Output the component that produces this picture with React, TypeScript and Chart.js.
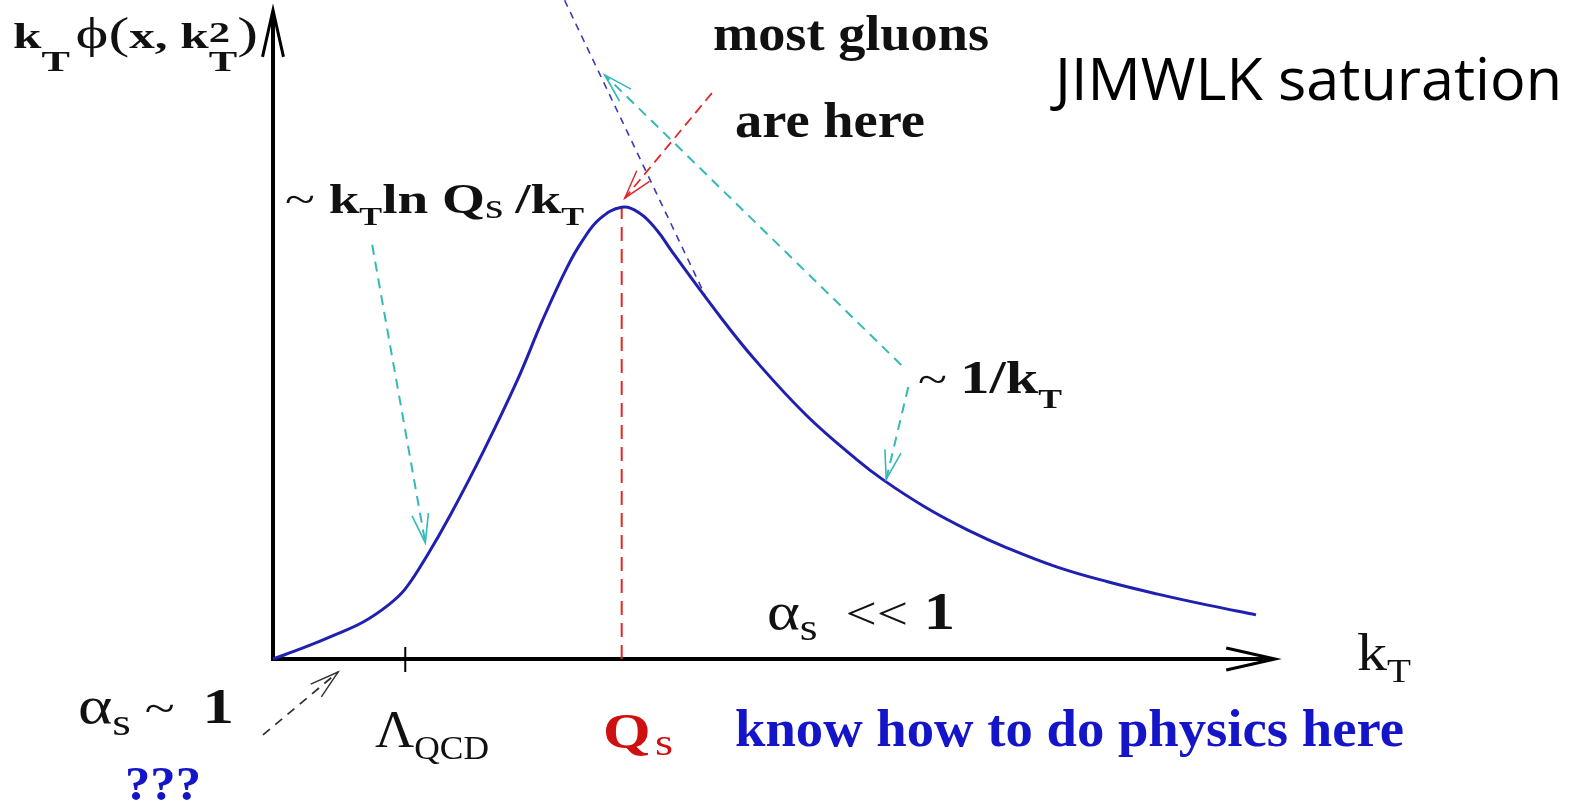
import React, { useEffect, useRef } from "react";
import { Chart, registerables } from "chart.js";

Chart.register(...registerables);

// Transverse momentum k_T (arbitrary units) and the unintegrated gluon
// distribution k_T·φ(x, k_T²) sampled along the curve.
const KT = [0, 0.3, 0.6, 0.9, 1.15, 1.32, 1.54, 1.77, 2.1, 2.44, 2.69, 2.93, 3.09, 3.26, 3.48, 3.66, 3.83, 3.99, 4.49, 4.81, 5.32, 5.82, 6.09, 6.52, 6.93, 7.33, 7.82, 8.33, 8.83, 9.33, 9.81];
const PHI = [0, 0.017, 0.036, 0.057, 0.083, 0.108, 0.16, 0.222, 0.32, 0.43, 0.522, 0.602, 0.645, 0.678, 0.696, 0.687, 0.661, 0.626, 0.522, 0.461, 0.376, 0.308, 0.276, 0.233, 0.199, 0.171, 0.142, 0.119, 0.1, 0.083, 0.068];

// Axis extents and marked scales
const X_MAX = 10;
const Y_MAX = 1;
const LAMBDA_QCD = 1.32;
const QS = 3.48;
const QS_PEAK = 0.696;

// Dashed 1/k_T asymptote
const ASYM_X = [2.91, 4.31];
const ASYM_Y = [1.015, 0.561];

// Dashed pointers (tail -> head)
const RED_PTR_X = [4.38, 3.51];
const RED_PTR_Y = [0.872, 0.71];
const CYAN_LEFT_X = [0.99, 1.52];
const CYAN_LEFT_Y = [0.638, 0.179];
const CYAN_UP_X = [6.27, 3.31];
const CYAN_UP_Y = [0.453, 0.9];
const CYAN_DOWN_X = [6.34, 6.12];
const CYAN_DOWN_Y = [0.419, 0.277];
const BLACK_PTR_X = [-0.1, 0.65];
const BLACK_PTR_Y = [-0.117, -0.02];

const SERIF = '"Liberation Serif", "DejaVu Serif", serif';
const SANS = '"Open Sans", "Noto Sans", sans-serif';
const B = (s: number) => `bold ${s}px ${SERIF}`;
const R = (s: number) => `${s}px ${SERIF}`;

const CURVE_BLUE = "#2020b0";
const CYAN = "#35b8b8";
const RED = "#e02828";
const TEXT_BLUE = "#1414c8";
const TEXT_RED = "#d01010";

type Run = { t: string; f: string; dy?: number; stay?: boolean; c?: string };

function drawRuns(ctx: CanvasRenderingContext2D, runs: Run[], x: number, y: number, width: number, color: string) {
  const widths = runs.map((r) => {
    ctx.font = r.f;
    return ctx.measureText(r.t).width;
  });
  let total = 0;
  runs.forEach((r, i) => {
    if (!r.stay) total += widths[i];
  });
  const sx = width > 0 ? width / total : 1;
  ctx.save();
  ctx.translate(x, y);
  ctx.scale(sx, 1);
  ctx.textBaseline = "alphabetic";
  ctx.textAlign = "left";
  let cx = 0;
  runs.forEach((r, i) => {
    ctx.font = r.f;
    ctx.fillStyle = r.c || color;
    ctx.fillText(r.t, cx, r.dy || 0);
    if (!r.stay) cx += widths[i];
  });
  ctx.restore();
}

function head(ctx: CanvasRenderingContext2D, fx: number, fy: number, tx: number, ty: number, len: number, half: number) {
  const a = Math.atan2(ty - fy, tx - fx);
  ctx.beginPath();
  ctx.moveTo(tx - len * Math.cos(a - half), ty - len * Math.sin(a - half));
  ctx.lineTo(tx, ty);
  ctx.lineTo(tx - len * Math.cos(a + half), ty - len * Math.sin(a + half));
  ctx.stroke();
}

function pointer(chart: any, xs: number[], ys: number[], color: string, dash: number[], width: number) {
  const { ctx } = chart;
  const sx = chart.scales.x;
  const sy = chart.scales.y;
  const fx = sx.getPixelForValue(xs[0]);
  const fy = sy.getPixelForValue(ys[0]);
  const tx = sx.getPixelForValue(xs[1]);
  const ty = sy.getPixelForValue(ys[1]);
  ctx.save();
  ctx.strokeStyle = color;
  ctx.lineWidth = width;
  ctx.setLineDash(dash);
  ctx.beginPath();
  ctx.moveTo(fx, fy);
  ctx.lineTo(tx, ty);
  ctx.stroke();
  ctx.setLineDash([]);
  ctx.lineWidth = width * 0.8;
  head(ctx, fx, fy, tx, ty, 30, 0.28);
  ctx.restore();
}

const overlay = {
  id: "overlay",
  beforeDatasetsDraw(chart: any) {
    const { ctx } = chart;
    const sx = chart.scales.x;
    const sy = chart.scales.y;
    const x0 = sx.getPixelForValue(0);
    const y0 = sy.getPixelForValue(0);
    const xEnd = sx.getPixelForValue(X_MAX);
    const yTop = sy.getPixelForValue(Y_MAX);
    ctx.save();
    ctx.fillStyle = "#fff";
    ctx.fillRect(0, 0, chart.width, chart.height);
    ctx.strokeStyle = "#000";
    ctx.lineWidth = 4;
    ctx.beginPath();
    ctx.moveTo(x0, y0 + 2);
    ctx.lineTo(x0, yTop + 2);
    ctx.moveTo(x0 - 2, y0);
    ctx.lineTo(xEnd - 2, y0);
    ctx.stroke();
    ctx.lineWidth = 3;
    head(ctx, x0, y0, x0, yTop, 48, 0.22);
    head(ctx, x0, y0, xEnd, y0, 50, 0.22);
    // Λ_QCD tick
    const xl = sx.getPixelForValue(LAMBDA_QCD);
    ctx.lineWidth = 2;
    ctx.beginPath();
    ctx.moveTo(xl, y0 - 12);
    ctx.lineTo(xl, y0 + 13);
    ctx.stroke();
    ctx.restore();
  },
  afterDatasetsDraw(chart: any) {
    const { ctx } = chart;
    pointer(chart, RED_PTR_X, RED_PTR_Y, RED, [10, 6], 1.8);
    pointer(chart, CYAN_LEFT_X, CYAN_LEFT_Y, CYAN, [10, 7], 2);
    pointer(chart, CYAN_UP_X, CYAN_UP_Y, CYAN, [10, 7], 2);
    pointer(chart, CYAN_DOWN_X, CYAN_DOWN_Y, CYAN, [10, 7], 2);
    pointer(chart, BLACK_PTR_X, BLACK_PTR_Y, "#333", [9, 7], 1.8);

    const K = "#111";
    drawRuns(ctx, [
      { t: "k", f: B(36) },
      { t: "T", f: B(30), dy: 23 },
      { t: " ", f: B(16) },
      { t: "ϕ", f: R(44) },
      { t: "(", f: R(44) },
      { t: "x, k", f: B(36) },
      { t: "2", f: B(30), dy: -6, stay: true },
      { t: "T", f: B(30), dy: 23 },
      { t: ")", f: R(44) },
    ], 13, 48, 245, K);
    drawRuns(ctx, [{ t: "most gluons", f: B(51) }], 713, 50, 276, K);
    drawRuns(ctx, [{ t: "are here", f: B(51) }], 735, 137, 190, K);
    drawRuns(ctx, [{ t: "JIMWLK saturation", f: `59px ${SANS}` }], 1055, 100, 507, "#000");
    drawRuns(ctx, [
      { t: "~ ", f: R(42) },
      { t: "k", f: B(42) },
      { t: "T", f: B(26), dy: 12 },
      { t: "ln ", f: B(42) },
      { t: "Q", f: B(42) },
      { t: "s ", f: R(36), dy: 5 },
      { t: "/", f: B(42) },
      { t: "k", f: B(42) },
      { t: "T", f: B(26), dy: 12 },
    ], 285, 213, 299, K);
    drawRuns(ctx, [
      { t: "~ ", f: R(42) },
      { t: "1/k", f: B(46) },
      { t: "T", f: B(28), dy: 15 },
    ], 918, 393, 144, K);
    drawRuns(ctx, [
      { t: "α", f: R(52) },
      { t: "s", f: R(38), dy: 11 },
      { t: "  <<", f: R(46) },
      { t: " 1", f: B(52) },
    ], 767, 629, 188, K);
    drawRuns(ctx, [
      { t: "k", f: R(52) },
      { t: "T", f: R(34), dy: 12 },
    ], 1357, 670, 54, K);
    drawRuns(ctx, [{ t: "know how to do physics here", f: B(52) }], 735, 746, 669, TEXT_BLUE);
    drawRuns(ctx, [
      { t: "Q", f: B(50) },
      { t: " ", f: R(14) },
      { t: "s", f: R(38), dy: 7 },
    ], 603, 748, 70, TEXT_RED);
    drawRuns(ctx, [
      { t: "Λ", f: R(52) },
      { t: "QCD", f: R(34), dy: 12 },
    ], 375, 747, 114, K);
    drawRuns(ctx, [
      { t: "α", f: R(52) },
      { t: "s", f: R(38), dy: 12 },
      { t: " ~  ", f: R(44) },
      { t: "1", f: B(50) },
    ], 78, 723, 156, K);
    drawRuns(ctx, [{ t: "???", f: B(48) }], 125, 800, 76, TEXT_BLUE);
  },
};

export default function App() {
  const ref = useRef<HTMLCanvasElement>(null);
  useEffect(() => {
    const chart = new Chart(ref.current!, {
      type: "line",
      data: {
        datasets: [
          {
            label: "k_T φ",
            data: KT.map((x, i) => ({ x, y: PHI[i] })),
            borderColor: CURVE_BLUE,
            borderWidth: 3,
            pointRadius: 0,
            tension: 0.4,
            fill: false,
            clip: false,
            order: 0,
          },
          {
            label: "Q_s",
            data: [{ x: QS, y: 0 }, { x: QS, y: QS_PEAK }],
            borderColor: RED,
            borderWidth: 2,
            borderDash: [14, 8],
            pointRadius: 0,
            clip: false,
            order: 1,
          },
          {
            label: "1/k_T",
            data: ASYM_X.map((x, i) => ({ x, y: ASYM_Y[i] })),
            borderColor: "#3a3ab8",
            borderWidth: 1.6,
            borderDash: [7, 6],
            pointRadius: 0,
            clip: false,
            order: 2,
          },
        ],
      },
      options: {
        animation: false,
        responsive: false,
        devicePixelRatio: 1,
        events: [],
        layout: { padding: { left: 273, right: 304, top: 10, bottom: 146 } },
        scales: {
          x: { type: "linear", min: 0, max: X_MAX, display: false },
          y: { type: "linear", min: 0, max: Y_MAX, display: false },
        },
        plugins: { legend: { display: false }, tooltip: { enabled: false } },
      },
      plugins: [overlay],
    } as any);
    return () => chart.destroy();
  }, []);
  return (
    <div style={{ position: "fixed", left: 0, top: 0, width: 1579, height: 805, background: "#fff" }}>
      <canvas ref={ref} width={1579} height={805} style={{ display: "block", width: 1579, height: 805 }} />
    </div>
  );
}
